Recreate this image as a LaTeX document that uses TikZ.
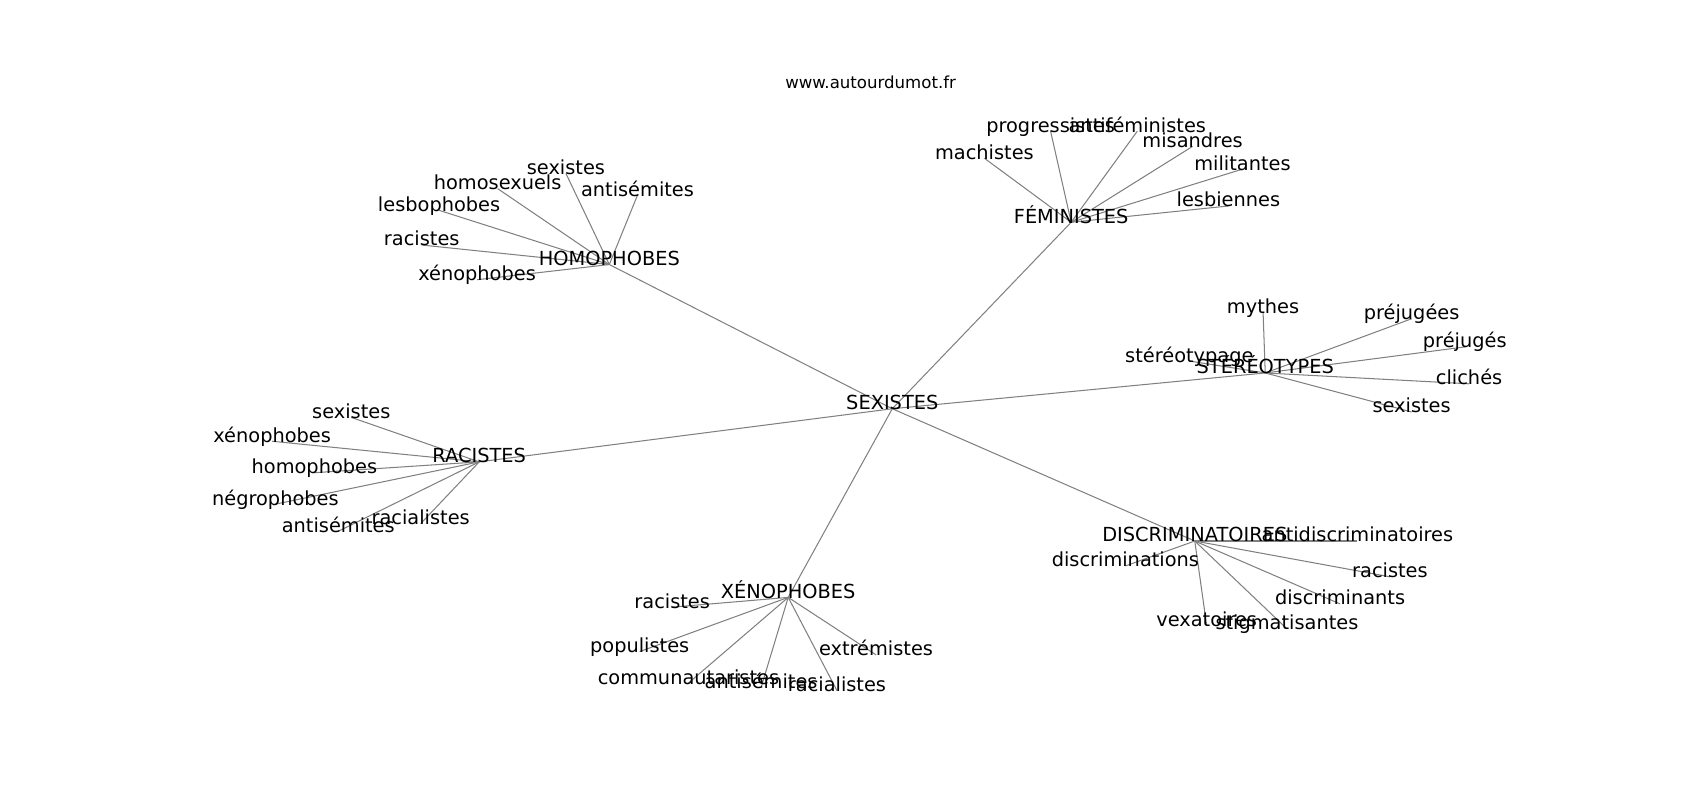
\documentclass[tikz,border=0pt]{standalone}
\usepackage{fontspec}
\setmainfont{DejaVu Sans}
\usetikzlibrary{backgrounds}
\tikzset{
  mot/.style={inner sep=0pt, text height=0.76em, text depth=0.62em, font=\fontsize{14}{16}\selectfont},
  lien/.style={draw=gray, line width=0.75pt},
}
\begin{document}
\begin{tikzpicture}[x=0.010842in, y={(0in,-0.010842in)}]
\useasboundingbox (0,0) rectangle (1568,738);
\node[inner sep=0pt, font=\fontsize{12}{14}\selectfont] (titre) at(803,76) {www.autourdumot.fr};
% centre
\node[mot] (sex) at(823,377) {SEXISTES};
% homophobes
\node[mot] (homo) at(562,244) {HOMOPHOBES};
\node[mot] (homoA) at(522,160) {sexistes};
\node[mot] (homoB) at(459,174) {homosexuels};
\node[mot] (homoC) at(588,180) {antisémites};
\node[mot] (homoD) at(405,194) {lesbophobes};
\node[mot] (homoE) at(389,226) {racistes};
\node[mot] (homoF) at(440,258) {xénophobes};
% feministes
\node[mot] (fem) at(988,205) {FÉMINISTES};
\node[mot] (femA) at(908,146) {machistes};
\node[mot] (femB) at(969,121) {progressistes};
\node[mot] (femC) at(1049,121) {antiféministes};
\node[mot] (femD) at(1100,135) {misandres};
\node[mot] (femE) at(1146,156) {militantes};
\node[mot] (femF) at(1133,190) {lesbiennes};
% stereotypes
\node[mot] (ster) at(1167,344) {STÉRÉOTYPES};
\node[mot] (sterA) at(1165,288) {mythes};
\node[mot] (sterB) at(1302,294) {préjugées};
\node[mot] (sterC) at(1351,320) {préjugés};
\node[mot] (sterD) at(1097,333) {stéréotypage};
\node[mot] (sterE) at(1355,354) {clichés};
\node[mot] (sterF) at(1302,380) {sexistes};
% racistes
\node[mot] (rac) at(442,426) {RACISTES};
\node[mot] (racA) at(324,385) {sexistes};
\node[mot] (racB) at(251,407) {xénophobes};
\node[mot] (racC) at(290,436) {homophobes};
\node[mot] (racD) at(254,465) {négrophobes};
\node[mot] (racE) at(312,490) {antisémites};
\node[mot] (racF) at(388,483) {racialistes};
% xenophobes
\node[mot] (xeno) at(727,551) {XÉNOPHOBES};
\node[mot] (xenoA) at(620,560) {racistes};
\node[mot] (xenoB) at(590,601) {populistes};
\node[mot] (xenoC) at(635,630) {communautaristes};
\node[mot] (xenoD) at(702,634) {antisémites};
\node[mot] (xenoE) at(772,637) {racialistes};
\node[mot] (xenoF) at(808,604) {extrémistes};
% discriminatoires
\node[mot] (disc) at(1102,499) {DISCRIMINATOIRES};
\node[mot] (discA) at(1252,499) {antidiscriminatoires};
\node[mot] (discB) at(1038,522) {discriminations};
\node[mot] (discC) at(1282,532) {racistes};
\node[mot] (discD) at(1236,557) {discriminants};
\node[mot] (discE) at(1113,577) {vexatoires};
\node[mot] (discF) at(1187,580) {stigmatisantes};
% liens
\begin{pgfonlayer}{background}
\foreach \g in {homo,fem,ster,rac,xeno,disc}{
  \draw[lien] (sex.center) -- (\g.center);
  \foreach \f in {A,B,C,D,E,F}
    \draw[lien] (\g.center) -- (\g\f.center);
}
\end{pgfonlayer}
\end{tikzpicture}
\end{document}
